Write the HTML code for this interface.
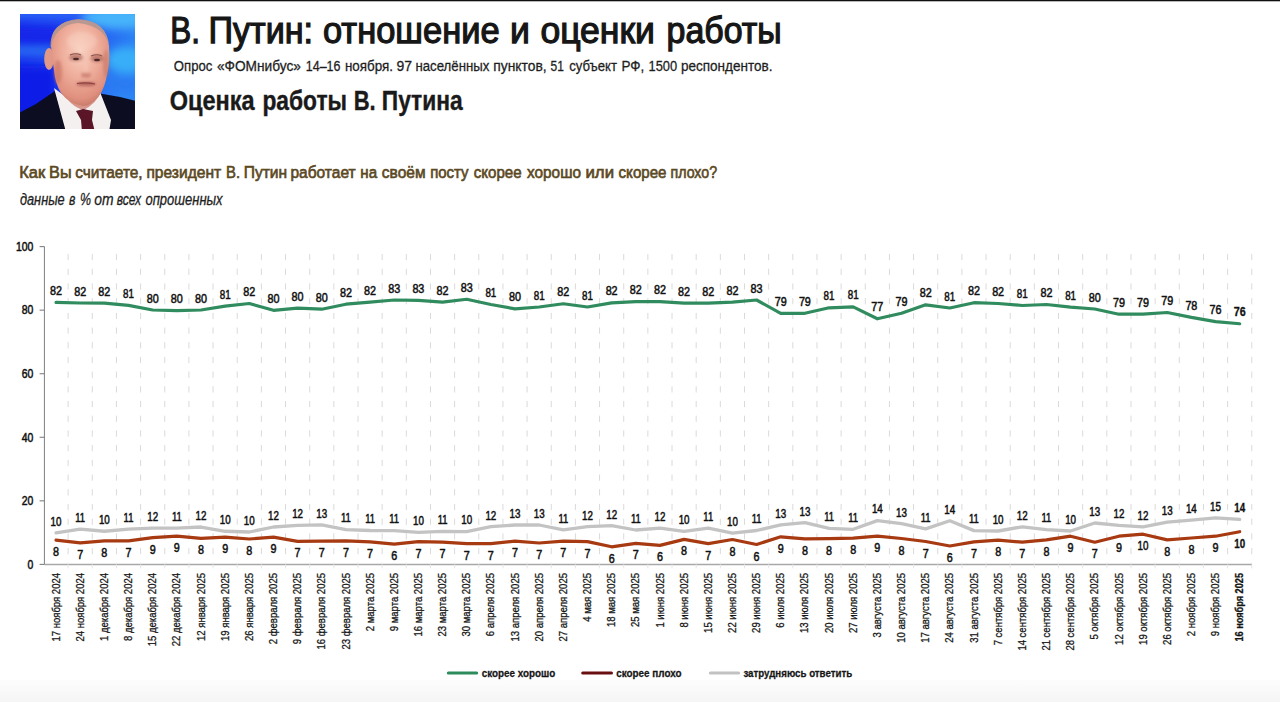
<!DOCTYPE html>
<html><head><meta charset="utf-8"><style>
html,body{margin:0;padding:0;background:#fff;width:1280px;height:702px;overflow:hidden}
svg{display:block;font-family:"Liberation Sans", sans-serif}
</style></head><body>
<svg width="1280" height="702" viewBox="0 0 1280 702">
<rect x="0" y="0" width="1280" height="702" fill="#ffffff"/>
<defs><linearGradient id="band" x1="0" y1="0" x2="0" y2="1"><stop offset="0" stop-color="#fdfdfd"/><stop offset="1" stop-color="#f5f5f5"/></linearGradient></defs>
<rect x="0" y="679.8" width="1280" height="22.2" fill="url(#band)"/>
<rect x="0" y="0" width="1280" height="1.3" fill="#111"/>

<g transform="translate(20,14)">
 <defs>
  <clipPath id="pc"><rect x="0" y="0" width="115" height="115"/></clipPath>
  <filter id="bl" x="-30%" y="-30%" width="160%" height="160%"><feGaussianBlur stdDeviation="4"/></filter>
  <filter id="bl2" x="-10%" y="-10%" width="120%" height="120%"><feGaussianBlur stdDeviation="0.7"/></filter>
  <filter id="bl3" x="-50%" y="-50%" width="200%" height="200%"><feGaussianBlur stdDeviation="1.6"/></filter>
  <radialGradient id="skin" cx="0.5" cy="0.36" r="0.65">
   <stop offset="0" stop-color="#f9d2c2"/><stop offset="0.45" stop-color="#f0b09e"/><stop offset="0.85" stop-color="#e0907e"/><stop offset="1" stop-color="#c87a6a"/>
  </radialGradient>
  <linearGradient id="bgg" x1="0" y1="0" x2="1" y2="0.3">
   <stop offset="0" stop-color="#1428ec"/><stop offset="0.5" stop-color="#1f4af0"/><stop offset="1" stop-color="#2d86f5"/>
  </linearGradient>
 </defs>
 <g clip-path="url(#pc)">
  <rect x="0" y="0" width="115" height="115" fill="url(#bgg)"/>
  <g filter="url(#bl)">
   <rect x="-10" y="-10" width="135" height="16" fill="#2a62f6"/>
   <ellipse cx="100" cy="4" rx="38" ry="11" fill="#46b4fa"/>
   <rect x="-10" y="12" width="50" height="20" fill="#1226ea"/>
   <rect x="-10" y="34" width="45" height="7" fill="#2f7af4"/>
   <ellipse cx="106" cy="46" rx="20" ry="13" fill="#38aef8"/>
   <rect x="-10" y="52" width="46" height="52" fill="#0f1ce6"/>
   <ellipse cx="104" cy="70" rx="20" ry="8" fill="#2a7af2"/>
  </g>
  <g filter="url(#bl2)">
   <path d="M-5 101 L16 90 L35 77 L47 118 L-5 118 Z" fill="#0a0c20"/>
   <path d="M77 79 L100 83 L120 88 L120 118 L86 118 Z" fill="#0a0c20"/>
   <path d="M34 74 L50 86 L64 96 L77 83 L80 78 L91 106 L89 118 L46 118 Z" fill="#f4f0f0"/>
   <path d="M38 64 Q44 90 63 96 Q77 90 81 76 L82 62 Z" fill="#d8958a"/>
   <path d="M56 97 L63 95 L73 97 L72 106 L75 118 L62 118 L61 106 Z" fill="#5a1828"/>
   <ellipse cx="29" cy="45" rx="4.8" ry="11" fill="#e09888"/>
   <path d="M31 32 Q30 8 58 5.5 Q87 7 89 32 Q90 48 87.5 58 Q85 74 79 82 Q71 92 63 92 Q49 90 41 79 Q35 69 34 56 Q32 45 31 32 Z" fill="url(#skin)"/>
   <path d="M30.5 34 Q29 8 58 5 Q87 6 89.5 34 Q86 12 58 9 Q35 11 30.5 34 Z" fill="#b09490" opacity="0.85"/>
  </g>
  <g filter="url(#bl3)">
   <ellipse cx="56" cy="43.5" rx="7" ry="3.6" fill="#b06a60" opacity="0.8"/>
   <ellipse cx="77" cy="44.5" rx="6.5" ry="3.6" fill="#b06a60" opacity="0.8"/>
   <ellipse cx="66" cy="61" rx="5" ry="2.6" fill="#c07062" opacity="0.7"/>
   <ellipse cx="66" cy="70" rx="10" ry="2" fill="#a85550" opacity="0.85"/>
   <ellipse cx="38" cy="58" rx="4" ry="12" fill="#c87060" opacity="0.6"/>
   <ellipse cx="86" cy="50" rx="3" ry="14" fill="#c07060" opacity="0.5"/>
   <ellipse cx="62" cy="27" rx="15" ry="9" fill="#fad4c6" opacity="0.4"/>
   <ellipse cx="66" cy="53" rx="2.5" ry="7" fill="#f8c8b8" opacity="0.5"/>
  </g>
  <g filter="url(#bl2)">
   <path d="M50 41 Q56 38.5 61 41" stroke="#8a5048" stroke-width="1.2" fill="none"/>
   <path d="M71 42 Q77 39.5 82 42" stroke="#8a5048" stroke-width="1.2" fill="none"/>
   <ellipse cx="56" cy="45" rx="3" ry="1.3" fill="#4a2a28"/>
   <ellipse cx="77" cy="46" rx="3" ry="1.3" fill="#4a2a28"/>
   <path d="M57 69.5 Q66 68 75 70" stroke="#8a4040" stroke-width="1.2" fill="none"/>
  </g>
 </g>
</g>

<line x1="68.13" y1="254" x2="68.13" y2="563" stroke="#dadada" stroke-width="1" stroke-dasharray="6.2 8.5"/>
<line x1="92.28" y1="254" x2="92.28" y2="563" stroke="#dadada" stroke-width="1" stroke-dasharray="6.2 8.5"/>
<line x1="116.44" y1="254" x2="116.44" y2="563" stroke="#dadada" stroke-width="1" stroke-dasharray="6.2 8.5"/>
<line x1="140.60" y1="254" x2="140.60" y2="563" stroke="#dadada" stroke-width="1" stroke-dasharray="6.2 8.5"/>
<line x1="164.75" y1="254" x2="164.75" y2="563" stroke="#dadada" stroke-width="1" stroke-dasharray="6.2 8.5"/>
<line x1="188.91" y1="254" x2="188.91" y2="563" stroke="#dadada" stroke-width="1" stroke-dasharray="6.2 8.5"/>
<line x1="213.06" y1="254" x2="213.06" y2="563" stroke="#dadada" stroke-width="1" stroke-dasharray="6.2 8.5"/>
<line x1="237.22" y1="254" x2="237.22" y2="563" stroke="#dadada" stroke-width="1" stroke-dasharray="6.2 8.5"/>
<line x1="261.38" y1="254" x2="261.38" y2="563" stroke="#dadada" stroke-width="1" stroke-dasharray="6.2 8.5"/>
<line x1="285.53" y1="254" x2="285.53" y2="563" stroke="#dadada" stroke-width="1" stroke-dasharray="6.2 8.5"/>
<line x1="309.69" y1="254" x2="309.69" y2="563" stroke="#dadada" stroke-width="1" stroke-dasharray="6.2 8.5"/>
<line x1="333.84" y1="254" x2="333.84" y2="563" stroke="#dadada" stroke-width="1" stroke-dasharray="6.2 8.5"/>
<line x1="358.00" y1="254" x2="358.00" y2="563" stroke="#dadada" stroke-width="1" stroke-dasharray="6.2 8.5"/>
<line x1="382.16" y1="254" x2="382.16" y2="563" stroke="#dadada" stroke-width="1" stroke-dasharray="6.2 8.5"/>
<line x1="406.31" y1="254" x2="406.31" y2="563" stroke="#dadada" stroke-width="1" stroke-dasharray="6.2 8.5"/>
<line x1="430.47" y1="254" x2="430.47" y2="563" stroke="#dadada" stroke-width="1" stroke-dasharray="6.2 8.5"/>
<line x1="454.62" y1="254" x2="454.62" y2="563" stroke="#dadada" stroke-width="1" stroke-dasharray="6.2 8.5"/>
<line x1="478.78" y1="254" x2="478.78" y2="563" stroke="#dadada" stroke-width="1" stroke-dasharray="6.2 8.5"/>
<line x1="502.94" y1="254" x2="502.94" y2="563" stroke="#dadada" stroke-width="1" stroke-dasharray="6.2 8.5"/>
<line x1="527.09" y1="254" x2="527.09" y2="563" stroke="#dadada" stroke-width="1" stroke-dasharray="6.2 8.5"/>
<line x1="551.25" y1="254" x2="551.25" y2="563" stroke="#dadada" stroke-width="1" stroke-dasharray="6.2 8.5"/>
<line x1="575.40" y1="254" x2="575.40" y2="563" stroke="#dadada" stroke-width="1" stroke-dasharray="6.2 8.5"/>
<line x1="599.56" y1="254" x2="599.56" y2="563" stroke="#dadada" stroke-width="1" stroke-dasharray="6.2 8.5"/>
<line x1="623.72" y1="254" x2="623.72" y2="563" stroke="#dadada" stroke-width="1" stroke-dasharray="6.2 8.5"/>
<line x1="647.87" y1="254" x2="647.87" y2="563" stroke="#dadada" stroke-width="1" stroke-dasharray="6.2 8.5"/>
<line x1="672.03" y1="254" x2="672.03" y2="563" stroke="#dadada" stroke-width="1" stroke-dasharray="6.2 8.5"/>
<line x1="696.18" y1="254" x2="696.18" y2="563" stroke="#dadada" stroke-width="1" stroke-dasharray="6.2 8.5"/>
<line x1="720.34" y1="254" x2="720.34" y2="563" stroke="#dadada" stroke-width="1" stroke-dasharray="6.2 8.5"/>
<line x1="744.50" y1="254" x2="744.50" y2="563" stroke="#dadada" stroke-width="1" stroke-dasharray="6.2 8.5"/>
<line x1="768.65" y1="254" x2="768.65" y2="563" stroke="#dadada" stroke-width="1" stroke-dasharray="6.2 8.5"/>
<line x1="792.81" y1="254" x2="792.81" y2="563" stroke="#dadada" stroke-width="1" stroke-dasharray="6.2 8.5"/>
<line x1="816.96" y1="254" x2="816.96" y2="563" stroke="#dadada" stroke-width="1" stroke-dasharray="6.2 8.5"/>
<line x1="841.12" y1="254" x2="841.12" y2="563" stroke="#dadada" stroke-width="1" stroke-dasharray="6.2 8.5"/>
<line x1="865.28" y1="254" x2="865.28" y2="563" stroke="#dadada" stroke-width="1" stroke-dasharray="6.2 8.5"/>
<line x1="889.43" y1="254" x2="889.43" y2="563" stroke="#dadada" stroke-width="1" stroke-dasharray="6.2 8.5"/>
<line x1="913.59" y1="254" x2="913.59" y2="563" stroke="#dadada" stroke-width="1" stroke-dasharray="6.2 8.5"/>
<line x1="937.74" y1="254" x2="937.74" y2="563" stroke="#dadada" stroke-width="1" stroke-dasharray="6.2 8.5"/>
<line x1="961.90" y1="254" x2="961.90" y2="563" stroke="#dadada" stroke-width="1" stroke-dasharray="6.2 8.5"/>
<line x1="986.06" y1="254" x2="986.06" y2="563" stroke="#dadada" stroke-width="1" stroke-dasharray="6.2 8.5"/>
<line x1="1010.21" y1="254" x2="1010.21" y2="563" stroke="#dadada" stroke-width="1" stroke-dasharray="6.2 8.5"/>
<line x1="1034.37" y1="254" x2="1034.37" y2="563" stroke="#dadada" stroke-width="1" stroke-dasharray="6.2 8.5"/>
<line x1="1058.52" y1="254" x2="1058.52" y2="563" stroke="#dadada" stroke-width="1" stroke-dasharray="6.2 8.5"/>
<line x1="1082.68" y1="254" x2="1082.68" y2="563" stroke="#dadada" stroke-width="1" stroke-dasharray="6.2 8.5"/>
<line x1="1106.84" y1="254" x2="1106.84" y2="563" stroke="#dadada" stroke-width="1" stroke-dasharray="6.2 8.5"/>
<line x1="1130.99" y1="254" x2="1130.99" y2="563" stroke="#dadada" stroke-width="1" stroke-dasharray="6.2 8.5"/>
<line x1="1155.15" y1="254" x2="1155.15" y2="563" stroke="#dadada" stroke-width="1" stroke-dasharray="6.2 8.5"/>
<line x1="1179.30" y1="254" x2="1179.30" y2="563" stroke="#dadada" stroke-width="1" stroke-dasharray="6.2 8.5"/>
<line x1="1203.46" y1="254" x2="1203.46" y2="563" stroke="#dadada" stroke-width="1" stroke-dasharray="6.2 8.5"/>
<line x1="1227.62" y1="254" x2="1227.62" y2="563" stroke="#dadada" stroke-width="1" stroke-dasharray="6.2 8.5"/>
<line x1="1251.77" y1="254" x2="1251.77" y2="563" stroke="#dadada" stroke-width="1" stroke-dasharray="6.2 8.5"/>
<line x1="44.45" y1="246.6" x2="44.45" y2="564.4" stroke="#8a8a8a" stroke-width="1.1"/>
<line x1="44.4" y1="564.4" x2="1252" y2="564.4" stroke="#a8a8a8" stroke-width="1.5"/>
<line x1="39.6" y1="564.40" x2="44.4" y2="564.40" stroke="#808080" stroke-width="1.1"/>
<text x="27.60" y="568.70" font-size="12" fill="#111" stroke="#111" stroke-width="0.5" textLength="5.80" lengthAdjust="spacingAndGlyphs">0</text>
<line x1="39.6" y1="500.84" x2="44.4" y2="500.84" stroke="#808080" stroke-width="1.1"/>
<text x="21.80" y="505.14" font-size="12" fill="#111" stroke="#111" stroke-width="0.5" textLength="11.60" lengthAdjust="spacingAndGlyphs">20</text>
<line x1="39.6" y1="437.28" x2="44.4" y2="437.28" stroke="#808080" stroke-width="1.1"/>
<text x="21.80" y="441.58" font-size="12" fill="#111" stroke="#111" stroke-width="0.5" textLength="11.60" lengthAdjust="spacingAndGlyphs">40</text>
<line x1="39.6" y1="373.72" x2="44.4" y2="373.72" stroke="#808080" stroke-width="1.1"/>
<text x="21.80" y="378.02" font-size="12" fill="#111" stroke="#111" stroke-width="0.5" textLength="11.60" lengthAdjust="spacingAndGlyphs">60</text>
<line x1="39.6" y1="310.16" x2="44.4" y2="310.16" stroke="#808080" stroke-width="1.1"/>
<text x="21.80" y="314.46" font-size="12" fill="#111" stroke="#111" stroke-width="0.5" textLength="11.60" lengthAdjust="spacingAndGlyphs">80</text>
<line x1="39.6" y1="246.60" x2="44.4" y2="246.60" stroke="#808080" stroke-width="1.1"/>
<text x="16.00" y="250.90" font-size="12" fill="#111" stroke="#111" stroke-width="0.5" textLength="17.40" lengthAdjust="spacingAndGlyphs">100</text>
<line x1="68.13" y1="564.4" x2="68.13" y2="568.4" stroke="#e6e6e6" stroke-width="1"/>
<line x1="92.28" y1="564.4" x2="92.28" y2="568.4" stroke="#e6e6e6" stroke-width="1"/>
<line x1="116.44" y1="564.4" x2="116.44" y2="568.4" stroke="#e6e6e6" stroke-width="1"/>
<line x1="140.60" y1="564.4" x2="140.60" y2="568.4" stroke="#e6e6e6" stroke-width="1"/>
<line x1="164.75" y1="564.4" x2="164.75" y2="568.4" stroke="#e6e6e6" stroke-width="1"/>
<line x1="188.91" y1="564.4" x2="188.91" y2="568.4" stroke="#e6e6e6" stroke-width="1"/>
<line x1="213.06" y1="564.4" x2="213.06" y2="568.4" stroke="#e6e6e6" stroke-width="1"/>
<line x1="237.22" y1="564.4" x2="237.22" y2="568.4" stroke="#e6e6e6" stroke-width="1"/>
<line x1="261.38" y1="564.4" x2="261.38" y2="568.4" stroke="#e6e6e6" stroke-width="1"/>
<line x1="285.53" y1="564.4" x2="285.53" y2="568.4" stroke="#e6e6e6" stroke-width="1"/>
<line x1="309.69" y1="564.4" x2="309.69" y2="568.4" stroke="#e6e6e6" stroke-width="1"/>
<line x1="333.84" y1="564.4" x2="333.84" y2="568.4" stroke="#e6e6e6" stroke-width="1"/>
<line x1="358.00" y1="564.4" x2="358.00" y2="568.4" stroke="#e6e6e6" stroke-width="1"/>
<line x1="382.16" y1="564.4" x2="382.16" y2="568.4" stroke="#e6e6e6" stroke-width="1"/>
<line x1="406.31" y1="564.4" x2="406.31" y2="568.4" stroke="#e6e6e6" stroke-width="1"/>
<line x1="430.47" y1="564.4" x2="430.47" y2="568.4" stroke="#e6e6e6" stroke-width="1"/>
<line x1="454.62" y1="564.4" x2="454.62" y2="568.4" stroke="#e6e6e6" stroke-width="1"/>
<line x1="478.78" y1="564.4" x2="478.78" y2="568.4" stroke="#e6e6e6" stroke-width="1"/>
<line x1="502.94" y1="564.4" x2="502.94" y2="568.4" stroke="#e6e6e6" stroke-width="1"/>
<line x1="527.09" y1="564.4" x2="527.09" y2="568.4" stroke="#e6e6e6" stroke-width="1"/>
<line x1="551.25" y1="564.4" x2="551.25" y2="568.4" stroke="#e6e6e6" stroke-width="1"/>
<line x1="575.40" y1="564.4" x2="575.40" y2="568.4" stroke="#e6e6e6" stroke-width="1"/>
<line x1="599.56" y1="564.4" x2="599.56" y2="568.4" stroke="#e6e6e6" stroke-width="1"/>
<line x1="623.72" y1="564.4" x2="623.72" y2="568.4" stroke="#e6e6e6" stroke-width="1"/>
<line x1="647.87" y1="564.4" x2="647.87" y2="568.4" stroke="#e6e6e6" stroke-width="1"/>
<line x1="672.03" y1="564.4" x2="672.03" y2="568.4" stroke="#e6e6e6" stroke-width="1"/>
<line x1="696.18" y1="564.4" x2="696.18" y2="568.4" stroke="#e6e6e6" stroke-width="1"/>
<line x1="720.34" y1="564.4" x2="720.34" y2="568.4" stroke="#e6e6e6" stroke-width="1"/>
<line x1="744.50" y1="564.4" x2="744.50" y2="568.4" stroke="#e6e6e6" stroke-width="1"/>
<line x1="768.65" y1="564.4" x2="768.65" y2="568.4" stroke="#e6e6e6" stroke-width="1"/>
<line x1="792.81" y1="564.4" x2="792.81" y2="568.4" stroke="#e6e6e6" stroke-width="1"/>
<line x1="816.96" y1="564.4" x2="816.96" y2="568.4" stroke="#e6e6e6" stroke-width="1"/>
<line x1="841.12" y1="564.4" x2="841.12" y2="568.4" stroke="#e6e6e6" stroke-width="1"/>
<line x1="865.28" y1="564.4" x2="865.28" y2="568.4" stroke="#e6e6e6" stroke-width="1"/>
<line x1="889.43" y1="564.4" x2="889.43" y2="568.4" stroke="#e6e6e6" stroke-width="1"/>
<line x1="913.59" y1="564.4" x2="913.59" y2="568.4" stroke="#e6e6e6" stroke-width="1"/>
<line x1="937.74" y1="564.4" x2="937.74" y2="568.4" stroke="#e6e6e6" stroke-width="1"/>
<line x1="961.90" y1="564.4" x2="961.90" y2="568.4" stroke="#e6e6e6" stroke-width="1"/>
<line x1="986.06" y1="564.4" x2="986.06" y2="568.4" stroke="#e6e6e6" stroke-width="1"/>
<line x1="1010.21" y1="564.4" x2="1010.21" y2="568.4" stroke="#e6e6e6" stroke-width="1"/>
<line x1="1034.37" y1="564.4" x2="1034.37" y2="568.4" stroke="#e6e6e6" stroke-width="1"/>
<line x1="1058.52" y1="564.4" x2="1058.52" y2="568.4" stroke="#e6e6e6" stroke-width="1"/>
<line x1="1082.68" y1="564.4" x2="1082.68" y2="568.4" stroke="#e6e6e6" stroke-width="1"/>
<line x1="1106.84" y1="564.4" x2="1106.84" y2="568.4" stroke="#e6e6e6" stroke-width="1"/>
<line x1="1130.99" y1="564.4" x2="1130.99" y2="568.4" stroke="#e6e6e6" stroke-width="1"/>
<line x1="1155.15" y1="564.4" x2="1155.15" y2="568.4" stroke="#e6e6e6" stroke-width="1"/>
<line x1="1179.30" y1="564.4" x2="1179.30" y2="568.4" stroke="#e6e6e6" stroke-width="1"/>
<line x1="1203.46" y1="564.4" x2="1203.46" y2="568.4" stroke="#e6e6e6" stroke-width="1"/>
<line x1="1227.62" y1="564.4" x2="1227.62" y2="568.4" stroke="#e6e6e6" stroke-width="1"/>
<line x1="1251.77" y1="564.4" x2="1251.77" y2="568.4" stroke="#e6e6e6" stroke-width="1"/>
<path d="M56.05,532.90 L80.21,529.10 L104.36,531.25 L128.52,529.10 L152.67,528.20 L176.83,528.20 L200.99,527.00 L225.14,531.25 L249.30,532.00 L273.45,527.00 L297.61,525.30 L321.77,524.90 L345.92,529.60 L370.08,530.50 L394.23,530.60 L418.39,532.30 L442.55,531.40 L466.70,531.60 L490.86,526.70 L515.01,525.00 L539.17,525.00 L563.33,529.80 L587.48,526.70 L611.64,525.70 L635.79,530.00 L659.95,528.10 L684.11,531.40 L708.26,528.10 L732.42,533.10 L756.57,530.50 L780.73,524.80 L804.89,522.70 L829.04,528.40 L853.20,529.30 L877.35,520.60 L901.51,523.70 L925.67,528.90 L949.82,520.70 L973.98,530.60 L998.13,531.00 L1022.29,526.80 L1046.45,529.60 L1070.60,531.00 L1094.76,523.00 L1118.91,525.40 L1143.07,526.80 L1167.23,522.10 L1191.38,520.20 L1215.54,517.90 L1239.69,519.30" fill="none" stroke="#c3c3c3" stroke-width="3.3" stroke-linejoin="round" stroke-linecap="round"/>
<path d="M56.05,540.10 L80.21,542.90 L104.36,540.80 L128.52,540.80 L152.67,537.60 L176.83,536.20 L200.99,538.30 L225.14,537.10 L249.30,539.00 L273.45,537.20 L297.61,541.40 L321.77,541.10 L345.92,540.80 L370.08,541.80 L394.23,544.10 L418.39,541.60 L442.55,542.20 L466.70,543.60 L490.86,543.60 L515.01,541.20 L539.17,543.00 L563.33,541.20 L587.48,541.60 L611.64,546.80 L635.79,543.30 L659.95,545.40 L684.11,539.40 L708.26,543.60 L732.42,539.50 L756.57,544.50 L780.73,536.80 L804.89,538.90 L829.04,538.60 L853.20,538.20 L877.35,536.10 L901.51,538.50 L925.67,541.50 L949.82,546.00 L973.98,541.80 L998.13,540.10 L1022.29,542.20 L1046.45,539.85 L1070.60,536.20 L1094.76,542.20 L1118.91,536.20 L1143.07,534.20 L1167.23,539.85 L1191.38,538.00 L1215.54,536.20 L1239.69,531.70" fill="none" stroke="#a83a12" stroke-width="3.2" stroke-linejoin="round" stroke-linecap="round"/>
<path d="M56.05,302.40 L80.21,303.00 L104.36,303.20 L128.52,305.40 L152.67,310.00 L176.83,310.70 L200.99,310.00 L225.14,306.10 L249.30,303.50 L273.45,310.30 L297.61,308.20 L321.77,309.20 L345.92,304.20 L370.08,302.10 L394.23,300.00 L418.39,300.40 L442.55,302.10 L466.70,299.25 L490.86,304.50 L515.01,308.80 L539.17,307.00 L563.33,303.75 L587.48,307.00 L611.64,302.80 L635.79,301.60 L659.95,301.60 L684.11,303.20 L708.26,303.20 L732.42,302.10 L756.57,300.00 L780.73,313.30 L804.89,313.30 L829.04,307.80 L853.20,306.90 L877.35,318.80 L901.51,313.20 L925.67,304.80 L949.82,308.00 L973.98,302.70 L998.13,303.50 L1022.29,305.50 L1046.45,304.50 L1070.60,307.20 L1094.76,309.00 L1118.91,314.20 L1143.07,314.20 L1167.23,312.50 L1191.38,317.40 L1215.54,321.60 L1239.69,323.75" fill="none" stroke="#308c5e" stroke-width="3.2" stroke-linejoin="round" stroke-linecap="round"/>
<text x="50.05" y="294.90" font-size="12" font-weight="normal" fill="#111" stroke="#111" stroke-width="0.5" textLength="12.00" lengthAdjust="spacingAndGlyphs">82</text>
<text x="53.05" y="556.10" font-size="12" font-weight="normal" fill="#111" stroke="#111" stroke-width="0.5" textLength="6.00" lengthAdjust="spacingAndGlyphs">8</text>
<text x="50.60" y="525.70" font-size="12" font-weight="normal" fill="#111" stroke="#111" stroke-width="0.5" textLength="10.90" lengthAdjust="spacingAndGlyphs">10</text>
<text x="74.21" y="295.50" font-size="12" font-weight="normal" fill="#111" stroke="#111" stroke-width="0.5" textLength="12.00" lengthAdjust="spacingAndGlyphs">82</text>
<text x="77.21" y="558.90" font-size="12" font-weight="normal" fill="#111" stroke="#111" stroke-width="0.5" textLength="6.00" lengthAdjust="spacingAndGlyphs">7</text>
<text x="75.31" y="521.90" font-size="12" font-weight="normal" fill="#111" stroke="#111" stroke-width="0.5" textLength="9.80" lengthAdjust="spacingAndGlyphs">11</text>
<text x="98.36" y="295.70" font-size="12" font-weight="normal" fill="#111" stroke="#111" stroke-width="0.5" textLength="12.00" lengthAdjust="spacingAndGlyphs">82</text>
<text x="101.36" y="556.80" font-size="12" font-weight="normal" fill="#111" stroke="#111" stroke-width="0.5" textLength="6.00" lengthAdjust="spacingAndGlyphs">8</text>
<text x="98.91" y="524.05" font-size="12" font-weight="normal" fill="#111" stroke="#111" stroke-width="0.5" textLength="10.90" lengthAdjust="spacingAndGlyphs">10</text>
<text x="123.07" y="297.90" font-size="12" font-weight="normal" fill="#111" stroke="#111" stroke-width="0.5" textLength="10.90" lengthAdjust="spacingAndGlyphs">81</text>
<text x="125.52" y="556.80" font-size="12" font-weight="normal" fill="#111" stroke="#111" stroke-width="0.5" textLength="6.00" lengthAdjust="spacingAndGlyphs">7</text>
<text x="123.62" y="521.90" font-size="12" font-weight="normal" fill="#111" stroke="#111" stroke-width="0.5" textLength="9.80" lengthAdjust="spacingAndGlyphs">11</text>
<text x="146.67" y="302.50" font-size="12" font-weight="normal" fill="#111" stroke="#111" stroke-width="0.5" textLength="12.00" lengthAdjust="spacingAndGlyphs">80</text>
<text x="149.67" y="553.60" font-size="12" font-weight="normal" fill="#111" stroke="#111" stroke-width="0.5" textLength="6.00" lengthAdjust="spacingAndGlyphs">9</text>
<text x="147.22" y="521.00" font-size="12" font-weight="normal" fill="#111" stroke="#111" stroke-width="0.5" textLength="10.90" lengthAdjust="spacingAndGlyphs">12</text>
<text x="170.83" y="303.20" font-size="12" font-weight="normal" fill="#111" stroke="#111" stroke-width="0.5" textLength="12.00" lengthAdjust="spacingAndGlyphs">80</text>
<text x="173.83" y="552.20" font-size="12" font-weight="normal" fill="#111" stroke="#111" stroke-width="0.5" textLength="6.00" lengthAdjust="spacingAndGlyphs">9</text>
<text x="171.93" y="521.00" font-size="12" font-weight="normal" fill="#111" stroke="#111" stroke-width="0.5" textLength="9.80" lengthAdjust="spacingAndGlyphs">11</text>
<text x="194.99" y="302.50" font-size="12" font-weight="normal" fill="#111" stroke="#111" stroke-width="0.5" textLength="12.00" lengthAdjust="spacingAndGlyphs">80</text>
<text x="197.99" y="554.30" font-size="12" font-weight="normal" fill="#111" stroke="#111" stroke-width="0.5" textLength="6.00" lengthAdjust="spacingAndGlyphs">8</text>
<text x="195.54" y="519.80" font-size="12" font-weight="normal" fill="#111" stroke="#111" stroke-width="0.5" textLength="10.90" lengthAdjust="spacingAndGlyphs">12</text>
<text x="219.69" y="298.60" font-size="12" font-weight="normal" fill="#111" stroke="#111" stroke-width="0.5" textLength="10.90" lengthAdjust="spacingAndGlyphs">81</text>
<text x="222.14" y="553.10" font-size="12" font-weight="normal" fill="#111" stroke="#111" stroke-width="0.5" textLength="6.00" lengthAdjust="spacingAndGlyphs">9</text>
<text x="219.69" y="524.05" font-size="12" font-weight="normal" fill="#111" stroke="#111" stroke-width="0.5" textLength="10.90" lengthAdjust="spacingAndGlyphs">10</text>
<text x="243.30" y="296.00" font-size="12" font-weight="normal" fill="#111" stroke="#111" stroke-width="0.5" textLength="12.00" lengthAdjust="spacingAndGlyphs">82</text>
<text x="246.30" y="555.00" font-size="12" font-weight="normal" fill="#111" stroke="#111" stroke-width="0.5" textLength="6.00" lengthAdjust="spacingAndGlyphs">8</text>
<text x="243.85" y="524.80" font-size="12" font-weight="normal" fill="#111" stroke="#111" stroke-width="0.5" textLength="10.90" lengthAdjust="spacingAndGlyphs">10</text>
<text x="267.45" y="302.80" font-size="12" font-weight="normal" fill="#111" stroke="#111" stroke-width="0.5" textLength="12.00" lengthAdjust="spacingAndGlyphs">80</text>
<text x="270.45" y="553.20" font-size="12" font-weight="normal" fill="#111" stroke="#111" stroke-width="0.5" textLength="6.00" lengthAdjust="spacingAndGlyphs">9</text>
<text x="268.00" y="519.80" font-size="12" font-weight="normal" fill="#111" stroke="#111" stroke-width="0.5" textLength="10.90" lengthAdjust="spacingAndGlyphs">12</text>
<text x="291.61" y="300.70" font-size="12" font-weight="normal" fill="#111" stroke="#111" stroke-width="0.5" textLength="12.00" lengthAdjust="spacingAndGlyphs">80</text>
<text x="294.61" y="557.40" font-size="12" font-weight="normal" fill="#111" stroke="#111" stroke-width="0.5" textLength="6.00" lengthAdjust="spacingAndGlyphs">7</text>
<text x="292.16" y="518.10" font-size="12" font-weight="normal" fill="#111" stroke="#111" stroke-width="0.5" textLength="10.90" lengthAdjust="spacingAndGlyphs">12</text>
<text x="315.77" y="301.70" font-size="12" font-weight="normal" fill="#111" stroke="#111" stroke-width="0.5" textLength="12.00" lengthAdjust="spacingAndGlyphs">80</text>
<text x="318.77" y="557.10" font-size="12" font-weight="normal" fill="#111" stroke="#111" stroke-width="0.5" textLength="6.00" lengthAdjust="spacingAndGlyphs">7</text>
<text x="316.32" y="517.70" font-size="12" font-weight="normal" fill="#111" stroke="#111" stroke-width="0.5" textLength="10.90" lengthAdjust="spacingAndGlyphs">13</text>
<text x="339.92" y="296.70" font-size="12" font-weight="normal" fill="#111" stroke="#111" stroke-width="0.5" textLength="12.00" lengthAdjust="spacingAndGlyphs">82</text>
<text x="342.92" y="556.80" font-size="12" font-weight="normal" fill="#111" stroke="#111" stroke-width="0.5" textLength="6.00" lengthAdjust="spacingAndGlyphs">7</text>
<text x="341.02" y="522.40" font-size="12" font-weight="normal" fill="#111" stroke="#111" stroke-width="0.5" textLength="9.80" lengthAdjust="spacingAndGlyphs">11</text>
<text x="364.08" y="294.60" font-size="12" font-weight="normal" fill="#111" stroke="#111" stroke-width="0.5" textLength="12.00" lengthAdjust="spacingAndGlyphs">82</text>
<text x="367.08" y="557.80" font-size="12" font-weight="normal" fill="#111" stroke="#111" stroke-width="0.5" textLength="6.00" lengthAdjust="spacingAndGlyphs">7</text>
<text x="365.18" y="523.30" font-size="12" font-weight="normal" fill="#111" stroke="#111" stroke-width="0.5" textLength="9.80" lengthAdjust="spacingAndGlyphs">11</text>
<text x="388.23" y="292.50" font-size="12" font-weight="normal" fill="#111" stroke="#111" stroke-width="0.5" textLength="12.00" lengthAdjust="spacingAndGlyphs">83</text>
<text x="391.23" y="560.10" font-size="12" font-weight="normal" fill="#111" stroke="#111" stroke-width="0.5" textLength="6.00" lengthAdjust="spacingAndGlyphs">6</text>
<text x="389.33" y="523.40" font-size="12" font-weight="normal" fill="#111" stroke="#111" stroke-width="0.5" textLength="9.80" lengthAdjust="spacingAndGlyphs">11</text>
<text x="412.39" y="292.90" font-size="12" font-weight="normal" fill="#111" stroke="#111" stroke-width="0.5" textLength="12.00" lengthAdjust="spacingAndGlyphs">83</text>
<text x="415.39" y="557.60" font-size="12" font-weight="normal" fill="#111" stroke="#111" stroke-width="0.5" textLength="6.00" lengthAdjust="spacingAndGlyphs">7</text>
<text x="412.94" y="525.10" font-size="12" font-weight="normal" fill="#111" stroke="#111" stroke-width="0.5" textLength="10.90" lengthAdjust="spacingAndGlyphs">10</text>
<text x="436.55" y="294.60" font-size="12" font-weight="normal" fill="#111" stroke="#111" stroke-width="0.5" textLength="12.00" lengthAdjust="spacingAndGlyphs">82</text>
<text x="439.55" y="558.20" font-size="12" font-weight="normal" fill="#111" stroke="#111" stroke-width="0.5" textLength="6.00" lengthAdjust="spacingAndGlyphs">7</text>
<text x="437.65" y="524.20" font-size="12" font-weight="normal" fill="#111" stroke="#111" stroke-width="0.5" textLength="9.80" lengthAdjust="spacingAndGlyphs">11</text>
<text x="460.70" y="291.75" font-size="12" font-weight="normal" fill="#111" stroke="#111" stroke-width="0.5" textLength="12.00" lengthAdjust="spacingAndGlyphs">83</text>
<text x="463.70" y="559.60" font-size="12" font-weight="normal" fill="#111" stroke="#111" stroke-width="0.5" textLength="6.00" lengthAdjust="spacingAndGlyphs">7</text>
<text x="461.25" y="524.40" font-size="12" font-weight="normal" fill="#111" stroke="#111" stroke-width="0.5" textLength="10.90" lengthAdjust="spacingAndGlyphs">10</text>
<text x="485.41" y="297.00" font-size="12" font-weight="normal" fill="#111" stroke="#111" stroke-width="0.5" textLength="10.90" lengthAdjust="spacingAndGlyphs">81</text>
<text x="487.86" y="559.60" font-size="12" font-weight="normal" fill="#111" stroke="#111" stroke-width="0.5" textLength="6.00" lengthAdjust="spacingAndGlyphs">7</text>
<text x="485.41" y="519.50" font-size="12" font-weight="normal" fill="#111" stroke="#111" stroke-width="0.5" textLength="10.90" lengthAdjust="spacingAndGlyphs">12</text>
<text x="509.01" y="301.30" font-size="12" font-weight="normal" fill="#111" stroke="#111" stroke-width="0.5" textLength="12.00" lengthAdjust="spacingAndGlyphs">80</text>
<text x="512.01" y="557.20" font-size="12" font-weight="normal" fill="#111" stroke="#111" stroke-width="0.5" textLength="6.00" lengthAdjust="spacingAndGlyphs">7</text>
<text x="509.56" y="517.80" font-size="12" font-weight="normal" fill="#111" stroke="#111" stroke-width="0.5" textLength="10.90" lengthAdjust="spacingAndGlyphs">13</text>
<text x="533.72" y="299.50" font-size="12" font-weight="normal" fill="#111" stroke="#111" stroke-width="0.5" textLength="10.90" lengthAdjust="spacingAndGlyphs">81</text>
<text x="536.17" y="559.00" font-size="12" font-weight="normal" fill="#111" stroke="#111" stroke-width="0.5" textLength="6.00" lengthAdjust="spacingAndGlyphs">7</text>
<text x="533.72" y="517.80" font-size="12" font-weight="normal" fill="#111" stroke="#111" stroke-width="0.5" textLength="10.90" lengthAdjust="spacingAndGlyphs">13</text>
<text x="557.33" y="296.25" font-size="12" font-weight="normal" fill="#111" stroke="#111" stroke-width="0.5" textLength="12.00" lengthAdjust="spacingAndGlyphs">82</text>
<text x="560.33" y="557.20" font-size="12" font-weight="normal" fill="#111" stroke="#111" stroke-width="0.5" textLength="6.00" lengthAdjust="spacingAndGlyphs">7</text>
<text x="558.43" y="522.60" font-size="12" font-weight="normal" fill="#111" stroke="#111" stroke-width="0.5" textLength="9.80" lengthAdjust="spacingAndGlyphs">11</text>
<text x="582.03" y="299.50" font-size="12" font-weight="normal" fill="#111" stroke="#111" stroke-width="0.5" textLength="10.90" lengthAdjust="spacingAndGlyphs">81</text>
<text x="584.48" y="557.60" font-size="12" font-weight="normal" fill="#111" stroke="#111" stroke-width="0.5" textLength="6.00" lengthAdjust="spacingAndGlyphs">7</text>
<text x="582.03" y="519.50" font-size="12" font-weight="normal" fill="#111" stroke="#111" stroke-width="0.5" textLength="10.90" lengthAdjust="spacingAndGlyphs">12</text>
<text x="605.64" y="295.30" font-size="12" font-weight="normal" fill="#111" stroke="#111" stroke-width="0.5" textLength="12.00" lengthAdjust="spacingAndGlyphs">82</text>
<text x="608.64" y="562.80" font-size="12" font-weight="normal" fill="#111" stroke="#111" stroke-width="0.5" textLength="6.00" lengthAdjust="spacingAndGlyphs">6</text>
<text x="606.19" y="518.50" font-size="12" font-weight="normal" fill="#111" stroke="#111" stroke-width="0.5" textLength="10.90" lengthAdjust="spacingAndGlyphs">12</text>
<text x="629.79" y="294.10" font-size="12" font-weight="normal" fill="#111" stroke="#111" stroke-width="0.5" textLength="12.00" lengthAdjust="spacingAndGlyphs">82</text>
<text x="632.79" y="559.30" font-size="12" font-weight="normal" fill="#111" stroke="#111" stroke-width="0.5" textLength="6.00" lengthAdjust="spacingAndGlyphs">7</text>
<text x="630.89" y="522.80" font-size="12" font-weight="normal" fill="#111" stroke="#111" stroke-width="0.5" textLength="9.80" lengthAdjust="spacingAndGlyphs">11</text>
<text x="653.95" y="294.10" font-size="12" font-weight="normal" fill="#111" stroke="#111" stroke-width="0.5" textLength="12.00" lengthAdjust="spacingAndGlyphs">82</text>
<text x="656.95" y="561.40" font-size="12" font-weight="normal" fill="#111" stroke="#111" stroke-width="0.5" textLength="6.00" lengthAdjust="spacingAndGlyphs">6</text>
<text x="654.50" y="520.90" font-size="12" font-weight="normal" fill="#111" stroke="#111" stroke-width="0.5" textLength="10.90" lengthAdjust="spacingAndGlyphs">12</text>
<text x="678.11" y="295.70" font-size="12" font-weight="normal" fill="#111" stroke="#111" stroke-width="0.5" textLength="12.00" lengthAdjust="spacingAndGlyphs">82</text>
<text x="681.11" y="555.40" font-size="12" font-weight="normal" fill="#111" stroke="#111" stroke-width="0.5" textLength="6.00" lengthAdjust="spacingAndGlyphs">8</text>
<text x="678.66" y="524.20" font-size="12" font-weight="normal" fill="#111" stroke="#111" stroke-width="0.5" textLength="10.90" lengthAdjust="spacingAndGlyphs">10</text>
<text x="702.26" y="295.70" font-size="12" font-weight="normal" fill="#111" stroke="#111" stroke-width="0.5" textLength="12.00" lengthAdjust="spacingAndGlyphs">82</text>
<text x="705.26" y="559.60" font-size="12" font-weight="normal" fill="#111" stroke="#111" stroke-width="0.5" textLength="6.00" lengthAdjust="spacingAndGlyphs">7</text>
<text x="703.36" y="520.90" font-size="12" font-weight="normal" fill="#111" stroke="#111" stroke-width="0.5" textLength="9.80" lengthAdjust="spacingAndGlyphs">11</text>
<text x="726.42" y="294.60" font-size="12" font-weight="normal" fill="#111" stroke="#111" stroke-width="0.5" textLength="12.00" lengthAdjust="spacingAndGlyphs">82</text>
<text x="729.42" y="555.50" font-size="12" font-weight="normal" fill="#111" stroke="#111" stroke-width="0.5" textLength="6.00" lengthAdjust="spacingAndGlyphs">8</text>
<text x="726.97" y="525.90" font-size="12" font-weight="normal" fill="#111" stroke="#111" stroke-width="0.5" textLength="10.90" lengthAdjust="spacingAndGlyphs">10</text>
<text x="750.57" y="292.50" font-size="12" font-weight="normal" fill="#111" stroke="#111" stroke-width="0.5" textLength="12.00" lengthAdjust="spacingAndGlyphs">83</text>
<text x="753.57" y="560.50" font-size="12" font-weight="normal" fill="#111" stroke="#111" stroke-width="0.5" textLength="6.00" lengthAdjust="spacingAndGlyphs">6</text>
<text x="751.67" y="523.30" font-size="12" font-weight="normal" fill="#111" stroke="#111" stroke-width="0.5" textLength="9.80" lengthAdjust="spacingAndGlyphs">11</text>
<text x="774.73" y="305.80" font-size="12" font-weight="normal" fill="#111" stroke="#111" stroke-width="0.5" textLength="12.00" lengthAdjust="spacingAndGlyphs">79</text>
<text x="777.73" y="552.80" font-size="12" font-weight="normal" fill="#111" stroke="#111" stroke-width="0.5" textLength="6.00" lengthAdjust="spacingAndGlyphs">9</text>
<text x="775.28" y="517.60" font-size="12" font-weight="normal" fill="#111" stroke="#111" stroke-width="0.5" textLength="10.90" lengthAdjust="spacingAndGlyphs">13</text>
<text x="798.89" y="305.80" font-size="12" font-weight="normal" fill="#111" stroke="#111" stroke-width="0.5" textLength="12.00" lengthAdjust="spacingAndGlyphs">79</text>
<text x="801.89" y="554.90" font-size="12" font-weight="normal" fill="#111" stroke="#111" stroke-width="0.5" textLength="6.00" lengthAdjust="spacingAndGlyphs">8</text>
<text x="799.44" y="515.50" font-size="12" font-weight="normal" fill="#111" stroke="#111" stroke-width="0.5" textLength="10.90" lengthAdjust="spacingAndGlyphs">13</text>
<text x="823.59" y="300.30" font-size="12" font-weight="normal" fill="#111" stroke="#111" stroke-width="0.5" textLength="10.90" lengthAdjust="spacingAndGlyphs">81</text>
<text x="826.04" y="554.60" font-size="12" font-weight="normal" fill="#111" stroke="#111" stroke-width="0.5" textLength="6.00" lengthAdjust="spacingAndGlyphs">8</text>
<text x="824.14" y="521.20" font-size="12" font-weight="normal" fill="#111" stroke="#111" stroke-width="0.5" textLength="9.80" lengthAdjust="spacingAndGlyphs">11</text>
<text x="847.75" y="299.40" font-size="12" font-weight="normal" fill="#111" stroke="#111" stroke-width="0.5" textLength="10.90" lengthAdjust="spacingAndGlyphs">81</text>
<text x="850.20" y="554.20" font-size="12" font-weight="normal" fill="#111" stroke="#111" stroke-width="0.5" textLength="6.00" lengthAdjust="spacingAndGlyphs">8</text>
<text x="848.30" y="522.10" font-size="12" font-weight="normal" fill="#111" stroke="#111" stroke-width="0.5" textLength="9.80" lengthAdjust="spacingAndGlyphs">11</text>
<text x="871.35" y="311.30" font-size="12" font-weight="normal" fill="#111" stroke="#111" stroke-width="0.5" textLength="12.00" lengthAdjust="spacingAndGlyphs">77</text>
<text x="874.35" y="552.10" font-size="12" font-weight="normal" fill="#111" stroke="#111" stroke-width="0.5" textLength="6.00" lengthAdjust="spacingAndGlyphs">9</text>
<text x="871.90" y="513.40" font-size="12" font-weight="normal" fill="#111" stroke="#111" stroke-width="0.5" textLength="10.90" lengthAdjust="spacingAndGlyphs">14</text>
<text x="895.51" y="305.70" font-size="12" font-weight="normal" fill="#111" stroke="#111" stroke-width="0.5" textLength="12.00" lengthAdjust="spacingAndGlyphs">79</text>
<text x="898.51" y="554.50" font-size="12" font-weight="normal" fill="#111" stroke="#111" stroke-width="0.5" textLength="6.00" lengthAdjust="spacingAndGlyphs">8</text>
<text x="896.06" y="516.50" font-size="12" font-weight="normal" fill="#111" stroke="#111" stroke-width="0.5" textLength="10.90" lengthAdjust="spacingAndGlyphs">13</text>
<text x="919.67" y="297.30" font-size="12" font-weight="normal" fill="#111" stroke="#111" stroke-width="0.5" textLength="12.00" lengthAdjust="spacingAndGlyphs">82</text>
<text x="922.67" y="557.50" font-size="12" font-weight="normal" fill="#111" stroke="#111" stroke-width="0.5" textLength="6.00" lengthAdjust="spacingAndGlyphs">7</text>
<text x="920.77" y="521.70" font-size="12" font-weight="normal" fill="#111" stroke="#111" stroke-width="0.5" textLength="9.80" lengthAdjust="spacingAndGlyphs">11</text>
<text x="944.37" y="300.50" font-size="12" font-weight="normal" fill="#111" stroke="#111" stroke-width="0.5" textLength="10.90" lengthAdjust="spacingAndGlyphs">81</text>
<text x="946.82" y="562.00" font-size="12" font-weight="normal" fill="#111" stroke="#111" stroke-width="0.5" textLength="6.00" lengthAdjust="spacingAndGlyphs">6</text>
<text x="944.37" y="513.50" font-size="12" font-weight="normal" fill="#111" stroke="#111" stroke-width="0.5" textLength="10.90" lengthAdjust="spacingAndGlyphs">14</text>
<text x="967.98" y="295.20" font-size="12" font-weight="normal" fill="#111" stroke="#111" stroke-width="0.5" textLength="12.00" lengthAdjust="spacingAndGlyphs">82</text>
<text x="970.98" y="557.80" font-size="12" font-weight="normal" fill="#111" stroke="#111" stroke-width="0.5" textLength="6.00" lengthAdjust="spacingAndGlyphs">7</text>
<text x="969.08" y="523.40" font-size="12" font-weight="normal" fill="#111" stroke="#111" stroke-width="0.5" textLength="9.80" lengthAdjust="spacingAndGlyphs">11</text>
<text x="992.13" y="296.00" font-size="12" font-weight="normal" fill="#111" stroke="#111" stroke-width="0.5" textLength="12.00" lengthAdjust="spacingAndGlyphs">82</text>
<text x="995.13" y="556.10" font-size="12" font-weight="normal" fill="#111" stroke="#111" stroke-width="0.5" textLength="6.00" lengthAdjust="spacingAndGlyphs">8</text>
<text x="992.68" y="523.80" font-size="12" font-weight="normal" fill="#111" stroke="#111" stroke-width="0.5" textLength="10.90" lengthAdjust="spacingAndGlyphs">10</text>
<text x="1016.84" y="298.00" font-size="12" font-weight="normal" fill="#111" stroke="#111" stroke-width="0.5" textLength="10.90" lengthAdjust="spacingAndGlyphs">81</text>
<text x="1019.29" y="558.20" font-size="12" font-weight="normal" fill="#111" stroke="#111" stroke-width="0.5" textLength="6.00" lengthAdjust="spacingAndGlyphs">7</text>
<text x="1016.84" y="519.60" font-size="12" font-weight="normal" fill="#111" stroke="#111" stroke-width="0.5" textLength="10.90" lengthAdjust="spacingAndGlyphs">12</text>
<text x="1040.45" y="297.00" font-size="12" font-weight="normal" fill="#111" stroke="#111" stroke-width="0.5" textLength="12.00" lengthAdjust="spacingAndGlyphs">82</text>
<text x="1043.45" y="555.85" font-size="12" font-weight="normal" fill="#111" stroke="#111" stroke-width="0.5" textLength="6.00" lengthAdjust="spacingAndGlyphs">8</text>
<text x="1041.55" y="522.40" font-size="12" font-weight="normal" fill="#111" stroke="#111" stroke-width="0.5" textLength="9.80" lengthAdjust="spacingAndGlyphs">11</text>
<text x="1065.15" y="299.70" font-size="12" font-weight="normal" fill="#111" stroke="#111" stroke-width="0.5" textLength="10.90" lengthAdjust="spacingAndGlyphs">81</text>
<text x="1067.60" y="552.20" font-size="12" font-weight="normal" fill="#111" stroke="#111" stroke-width="0.5" textLength="6.00" lengthAdjust="spacingAndGlyphs">9</text>
<text x="1065.15" y="523.80" font-size="12" font-weight="normal" fill="#111" stroke="#111" stroke-width="0.5" textLength="10.90" lengthAdjust="spacingAndGlyphs">10</text>
<text x="1088.76" y="301.50" font-size="12" font-weight="normal" fill="#111" stroke="#111" stroke-width="0.5" textLength="12.00" lengthAdjust="spacingAndGlyphs">80</text>
<text x="1091.76" y="558.20" font-size="12" font-weight="normal" fill="#111" stroke="#111" stroke-width="0.5" textLength="6.00" lengthAdjust="spacingAndGlyphs">7</text>
<text x="1089.31" y="515.80" font-size="12" font-weight="normal" fill="#111" stroke="#111" stroke-width="0.5" textLength="10.90" lengthAdjust="spacingAndGlyphs">13</text>
<text x="1112.91" y="306.70" font-size="12" font-weight="normal" fill="#111" stroke="#111" stroke-width="0.5" textLength="12.00" lengthAdjust="spacingAndGlyphs">79</text>
<text x="1115.91" y="552.20" font-size="12" font-weight="normal" fill="#111" stroke="#111" stroke-width="0.5" textLength="6.00" lengthAdjust="spacingAndGlyphs">9</text>
<text x="1113.46" y="518.20" font-size="12" font-weight="normal" fill="#111" stroke="#111" stroke-width="0.5" textLength="10.90" lengthAdjust="spacingAndGlyphs">12</text>
<text x="1137.07" y="306.70" font-size="12" font-weight="normal" fill="#111" stroke="#111" stroke-width="0.5" textLength="12.00" lengthAdjust="spacingAndGlyphs">79</text>
<text x="1137.62" y="550.20" font-size="12" font-weight="normal" fill="#111" stroke="#111" stroke-width="0.5" textLength="10.90" lengthAdjust="spacingAndGlyphs">10</text>
<text x="1137.62" y="519.60" font-size="12" font-weight="normal" fill="#111" stroke="#111" stroke-width="0.5" textLength="10.90" lengthAdjust="spacingAndGlyphs">12</text>
<text x="1161.23" y="305.00" font-size="12" font-weight="normal" fill="#111" stroke="#111" stroke-width="0.5" textLength="12.00" lengthAdjust="spacingAndGlyphs">79</text>
<text x="1164.23" y="555.85" font-size="12" font-weight="normal" fill="#111" stroke="#111" stroke-width="0.5" textLength="6.00" lengthAdjust="spacingAndGlyphs">8</text>
<text x="1161.78" y="514.90" font-size="12" font-weight="normal" fill="#111" stroke="#111" stroke-width="0.5" textLength="10.90" lengthAdjust="spacingAndGlyphs">13</text>
<text x="1185.38" y="309.90" font-size="12" font-weight="normal" fill="#111" stroke="#111" stroke-width="0.5" textLength="12.00" lengthAdjust="spacingAndGlyphs">78</text>
<text x="1188.38" y="554.00" font-size="12" font-weight="normal" fill="#111" stroke="#111" stroke-width="0.5" textLength="6.00" lengthAdjust="spacingAndGlyphs">8</text>
<text x="1185.93" y="513.00" font-size="12" font-weight="normal" fill="#111" stroke="#111" stroke-width="0.5" textLength="10.90" lengthAdjust="spacingAndGlyphs">14</text>
<text x="1209.54" y="314.10" font-size="12" font-weight="normal" fill="#111" stroke="#111" stroke-width="0.5" textLength="12.00" lengthAdjust="spacingAndGlyphs">76</text>
<text x="1212.54" y="552.20" font-size="12" font-weight="normal" fill="#111" stroke="#111" stroke-width="0.5" textLength="6.00" lengthAdjust="spacingAndGlyphs">9</text>
<text x="1210.09" y="510.70" font-size="12" font-weight="normal" fill="#111" stroke="#111" stroke-width="0.5" textLength="10.90" lengthAdjust="spacingAndGlyphs">15</text>
<text x="1233.69" y="316.25" font-size="12" font-weight="bold" fill="#111" stroke="#111" stroke-width="0.3" textLength="12.00" lengthAdjust="spacingAndGlyphs">76</text>
<text x="1234.24" y="547.70" font-size="12" font-weight="bold" fill="#111" stroke="#111" stroke-width="0.3" textLength="10.90" lengthAdjust="spacingAndGlyphs">10</text>
<text x="1234.24" y="512.10" font-size="12" font-weight="bold" fill="#111" stroke="#111" stroke-width="0.3" textLength="10.90" lengthAdjust="spacingAndGlyphs">14</text>
<text transform="translate(59.65,573) rotate(-90)" x="-68.50" y="0" font-size="11.6"  fill="#151515" stroke="#151515" stroke-width="0.3" textLength="68.50" lengthAdjust="spacingAndGlyphs">17 ноября 2024</text>
<text transform="translate(83.81,573) rotate(-90)" x="-68.50" y="0" font-size="11.6"  fill="#151515" stroke="#151515" stroke-width="0.3" textLength="68.50" lengthAdjust="spacingAndGlyphs">24 ноября 2024</text>
<text transform="translate(107.96,573) rotate(-90)" x="-68.02" y="0" font-size="11.6"  fill="#151515" stroke="#151515" stroke-width="0.3" textLength="68.02" lengthAdjust="spacingAndGlyphs">1 декабря 2024</text>
<text transform="translate(132.12,573) rotate(-90)" x="-68.02" y="0" font-size="11.6"  fill="#151515" stroke="#151515" stroke-width="0.3" textLength="68.02" lengthAdjust="spacingAndGlyphs">8 декабря 2024</text>
<text transform="translate(156.27,573) rotate(-90)" x="-73.31" y="0" font-size="11.6"  fill="#151515" stroke="#151515" stroke-width="0.3" textLength="73.31" lengthAdjust="spacingAndGlyphs">15 декабря 2024</text>
<text transform="translate(180.43,573) rotate(-90)" x="-73.31" y="0" font-size="11.6"  fill="#151515" stroke="#151515" stroke-width="0.3" textLength="73.31" lengthAdjust="spacingAndGlyphs">22 декабря 2024</text>
<text transform="translate(204.59,573) rotate(-90)" x="-67.99" y="0" font-size="11.6"  fill="#151515" stroke="#151515" stroke-width="0.3" textLength="67.99" lengthAdjust="spacingAndGlyphs">12 января 2025</text>
<text transform="translate(228.74,573) rotate(-90)" x="-67.99" y="0" font-size="11.6"  fill="#151515" stroke="#151515" stroke-width="0.3" textLength="67.99" lengthAdjust="spacingAndGlyphs">19 января 2025</text>
<text transform="translate(252.90,573) rotate(-90)" x="-67.99" y="0" font-size="11.6"  fill="#151515" stroke="#151515" stroke-width="0.3" textLength="67.99" lengthAdjust="spacingAndGlyphs">26 января 2025</text>
<text transform="translate(277.05,573) rotate(-90)" x="-71.19" y="0" font-size="11.6"  fill="#151515" stroke="#151515" stroke-width="0.3" textLength="71.19" lengthAdjust="spacingAndGlyphs">2 февраля 2025</text>
<text transform="translate(301.21,573) rotate(-90)" x="-71.19" y="0" font-size="11.6"  fill="#151515" stroke="#151515" stroke-width="0.3" textLength="71.19" lengthAdjust="spacingAndGlyphs">9 февраля 2025</text>
<text transform="translate(325.37,573) rotate(-90)" x="-76.48" y="0" font-size="11.6"  fill="#151515" stroke="#151515" stroke-width="0.3" textLength="76.48" lengthAdjust="spacingAndGlyphs">16 февраля 2025</text>
<text transform="translate(349.52,573) rotate(-90)" x="-76.48" y="0" font-size="11.6"  fill="#151515" stroke="#151515" stroke-width="0.3" textLength="76.48" lengthAdjust="spacingAndGlyphs">23 февраля 2025</text>
<text transform="translate(373.68,573) rotate(-90)" x="-58.18" y="0" font-size="11.6"  fill="#151515" stroke="#151515" stroke-width="0.3" textLength="58.18" lengthAdjust="spacingAndGlyphs">2 марта 2025</text>
<text transform="translate(397.83,573) rotate(-90)" x="-58.18" y="0" font-size="11.6"  fill="#151515" stroke="#151515" stroke-width="0.3" textLength="58.18" lengthAdjust="spacingAndGlyphs">9 марта 2025</text>
<text transform="translate(421.99,573) rotate(-90)" x="-63.47" y="0" font-size="11.6"  fill="#151515" stroke="#151515" stroke-width="0.3" textLength="63.47" lengthAdjust="spacingAndGlyphs">16 марта 2025</text>
<text transform="translate(446.15,573) rotate(-90)" x="-63.47" y="0" font-size="11.6"  fill="#151515" stroke="#151515" stroke-width="0.3" textLength="63.47" lengthAdjust="spacingAndGlyphs">23 марта 2025</text>
<text transform="translate(470.30,573) rotate(-90)" x="-63.47" y="0" font-size="11.6"  fill="#151515" stroke="#151515" stroke-width="0.3" textLength="63.47" lengthAdjust="spacingAndGlyphs">30 марта 2025</text>
<text transform="translate(494.46,573) rotate(-90)" x="-63.15" y="0" font-size="11.6"  fill="#151515" stroke="#151515" stroke-width="0.3" textLength="63.15" lengthAdjust="spacingAndGlyphs">6 апреля 2025</text>
<text transform="translate(518.61,573) rotate(-90)" x="-68.44" y="0" font-size="11.6"  fill="#151515" stroke="#151515" stroke-width="0.3" textLength="68.44" lengthAdjust="spacingAndGlyphs">13 апреля 2025</text>
<text transform="translate(542.77,573) rotate(-90)" x="-68.44" y="0" font-size="11.6"  fill="#151515" stroke="#151515" stroke-width="0.3" textLength="68.44" lengthAdjust="spacingAndGlyphs">20 апреля 2025</text>
<text transform="translate(566.93,573) rotate(-90)" x="-68.44" y="0" font-size="11.6"  fill="#151515" stroke="#151515" stroke-width="0.3" textLength="68.44" lengthAdjust="spacingAndGlyphs">27 апреля 2025</text>
<text transform="translate(591.08,573) rotate(-90)" x="-48.71" y="0" font-size="11.6"  fill="#151515" stroke="#151515" stroke-width="0.3" textLength="48.71" lengthAdjust="spacingAndGlyphs">4 мая 2025</text>
<text transform="translate(615.24,573) rotate(-90)" x="-54.00" y="0" font-size="11.6"  fill="#151515" stroke="#151515" stroke-width="0.3" textLength="54.00" lengthAdjust="spacingAndGlyphs">18 мая 2025</text>
<text transform="translate(639.39,573) rotate(-90)" x="-54.00" y="0" font-size="11.6"  fill="#151515" stroke="#151515" stroke-width="0.3" textLength="54.00" lengthAdjust="spacingAndGlyphs">25 мая 2025</text>
<text transform="translate(663.55,573) rotate(-90)" x="-54.59" y="0" font-size="11.6"  fill="#151515" stroke="#151515" stroke-width="0.3" textLength="54.59" lengthAdjust="spacingAndGlyphs">1 июня 2025</text>
<text transform="translate(687.71,573) rotate(-90)" x="-54.59" y="0" font-size="11.6"  fill="#151515" stroke="#151515" stroke-width="0.3" textLength="54.59" lengthAdjust="spacingAndGlyphs">8 июня 2025</text>
<text transform="translate(711.86,573) rotate(-90)" x="-59.88" y="0" font-size="11.6"  fill="#151515" stroke="#151515" stroke-width="0.3" textLength="59.88" lengthAdjust="spacingAndGlyphs">15 июня 2025</text>
<text transform="translate(736.02,573) rotate(-90)" x="-59.88" y="0" font-size="11.6"  fill="#151515" stroke="#151515" stroke-width="0.3" textLength="59.88" lengthAdjust="spacingAndGlyphs">22 июня 2025</text>
<text transform="translate(760.17,573) rotate(-90)" x="-59.88" y="0" font-size="11.6"  fill="#151515" stroke="#151515" stroke-width="0.3" textLength="59.88" lengthAdjust="spacingAndGlyphs">29 июня 2025</text>
<text transform="translate(784.33,573) rotate(-90)" x="-54.67" y="0" font-size="11.6"  fill="#151515" stroke="#151515" stroke-width="0.3" textLength="54.67" lengthAdjust="spacingAndGlyphs">6 июля 2025</text>
<text transform="translate(808.49,573) rotate(-90)" x="-59.96" y="0" font-size="11.6"  fill="#151515" stroke="#151515" stroke-width="0.3" textLength="59.96" lengthAdjust="spacingAndGlyphs">13 июля 2025</text>
<text transform="translate(832.64,573) rotate(-90)" x="-59.96" y="0" font-size="11.6"  fill="#151515" stroke="#151515" stroke-width="0.3" textLength="59.96" lengthAdjust="spacingAndGlyphs">20 июля 2025</text>
<text transform="translate(856.80,573) rotate(-90)" x="-59.96" y="0" font-size="11.6"  fill="#151515" stroke="#151515" stroke-width="0.3" textLength="59.96" lengthAdjust="spacingAndGlyphs">27 июля 2025</text>
<text transform="translate(880.95,573) rotate(-90)" x="-64.49" y="0" font-size="11.6"  fill="#151515" stroke="#151515" stroke-width="0.3" textLength="64.49" lengthAdjust="spacingAndGlyphs">3 августа 2025</text>
<text transform="translate(905.11,573) rotate(-90)" x="-69.78" y="0" font-size="11.6"  fill="#151515" stroke="#151515" stroke-width="0.3" textLength="69.78" lengthAdjust="spacingAndGlyphs">10 августа 2025</text>
<text transform="translate(929.27,573) rotate(-90)" x="-69.78" y="0" font-size="11.6"  fill="#151515" stroke="#151515" stroke-width="0.3" textLength="69.78" lengthAdjust="spacingAndGlyphs">17 августа 2025</text>
<text transform="translate(953.42,573) rotate(-90)" x="-69.78" y="0" font-size="11.6"  fill="#151515" stroke="#151515" stroke-width="0.3" textLength="69.78" lengthAdjust="spacingAndGlyphs">24 августа 2025</text>
<text transform="translate(977.58,573) rotate(-90)" x="-69.78" y="0" font-size="11.6"  fill="#151515" stroke="#151515" stroke-width="0.3" textLength="69.78" lengthAdjust="spacingAndGlyphs">31 августа 2025</text>
<text transform="translate(1001.73,573) rotate(-90)" x="-72.33" y="0" font-size="11.6"  fill="#151515" stroke="#151515" stroke-width="0.3" textLength="72.33" lengthAdjust="spacingAndGlyphs">7 сентября 2025</text>
<text transform="translate(1025.89,573) rotate(-90)" x="-77.62" y="0" font-size="11.6"  fill="#151515" stroke="#151515" stroke-width="0.3" textLength="77.62" lengthAdjust="spacingAndGlyphs">14 сентября 2025</text>
<text transform="translate(1050.05,573) rotate(-90)" x="-77.62" y="0" font-size="11.6"  fill="#151515" stroke="#151515" stroke-width="0.3" textLength="77.62" lengthAdjust="spacingAndGlyphs">21 сентября 2025</text>
<text transform="translate(1074.20,573) rotate(-90)" x="-77.62" y="0" font-size="11.6"  fill="#151515" stroke="#151515" stroke-width="0.3" textLength="77.62" lengthAdjust="spacingAndGlyphs">28 сентября 2025</text>
<text transform="translate(1098.36,573) rotate(-90)" x="-66.59" y="0" font-size="11.6"  fill="#151515" stroke="#151515" stroke-width="0.3" textLength="66.59" lengthAdjust="spacingAndGlyphs">5 октября 2025</text>
<text transform="translate(1122.51,573) rotate(-90)" x="-71.88" y="0" font-size="11.6"  fill="#151515" stroke="#151515" stroke-width="0.3" textLength="71.88" lengthAdjust="spacingAndGlyphs">12 октября 2025</text>
<text transform="translate(1146.67,573) rotate(-90)" x="-71.88" y="0" font-size="11.6"  fill="#151515" stroke="#151515" stroke-width="0.3" textLength="71.88" lengthAdjust="spacingAndGlyphs">19 октября 2025</text>
<text transform="translate(1170.83,573) rotate(-90)" x="-71.88" y="0" font-size="11.6"  fill="#151515" stroke="#151515" stroke-width="0.3" textLength="71.88" lengthAdjust="spacingAndGlyphs">26 октября 2025</text>
<text transform="translate(1194.98,573) rotate(-90)" x="-63.21" y="0" font-size="11.6"  fill="#151515" stroke="#151515" stroke-width="0.3" textLength="63.21" lengthAdjust="spacingAndGlyphs">2 ноября 2025</text>
<text transform="translate(1219.14,573) rotate(-90)" x="-63.21" y="0" font-size="11.6"  fill="#151515" stroke="#151515" stroke-width="0.3" textLength="63.21" lengthAdjust="spacingAndGlyphs">9 ноября 2025</text>
<text transform="translate(1243.29,573) rotate(-90)" x="-68.50" y="0" font-size="11.6" font-weight="bold" fill="#151515" stroke="#151515" stroke-width="0.3" textLength="68.50" lengthAdjust="spacingAndGlyphs">16 ноября 2025</text>
<line x1="448.3" y1="673.1" x2="476.7" y2="673.1" stroke="#2e8c5c" stroke-width="3" stroke-linecap="round"/>
<line x1="582.7" y1="673.1" x2="611.5" y2="673.1" stroke="#6a0f10" stroke-width="3" stroke-linecap="round"/>
<line x1="710.3" y1="673.1" x2="738.6" y2="673.1" stroke="#c2c2c2" stroke-width="3" stroke-linecap="round"/>
<text x="170.30" y="42.7" font-size="37.2"   fill="#161616" stroke="#161616" stroke-width="1.25" textLength="29.70" lengthAdjust="spacingAndGlyphs" >В.</text>
<text x="208.46" y="42.7" font-size="37.2"   fill="#161616" stroke="#161616" stroke-width="1.25" textLength="104.63" lengthAdjust="spacingAndGlyphs" >Путин:</text>
<text x="322.93" y="42.7" font-size="37.2"   fill="#161616" stroke="#161616" stroke-width="1.25" textLength="176.72" lengthAdjust="spacingAndGlyphs" >отношение</text>
<text x="510.06" y="42.7" font-size="37.2"   fill="#161616" stroke="#161616" stroke-width="1.25" textLength="19.89" lengthAdjust="spacingAndGlyphs" >и</text>
<text x="540.39" y="42.7" font-size="37.2"   fill="#161616" stroke="#161616" stroke-width="1.25" textLength="114.54" lengthAdjust="spacingAndGlyphs" >оценки</text>
<text x="666.55" y="42.7" font-size="37.2"   fill="#161616" stroke="#161616" stroke-width="1.25" textLength="115.16" lengthAdjust="spacingAndGlyphs" >работы</text>
<text x="173.83" y="70.6" font-size="15.5"   fill="#1e1e1e" stroke="#1e1e1e" stroke-width="0.3" textLength="38.57" lengthAdjust="spacingAndGlyphs" >Опрос</text>
<text x="216.90" y="70.6" font-size="15.5"   fill="#1e1e1e" stroke="#1e1e1e" stroke-width="0.3" textLength="84.00" lengthAdjust="spacingAndGlyphs" >«ФОМнибус»</text>
<text x="305.80" y="70.6" font-size="15.5"   fill="#1e1e1e" stroke="#1e1e1e" stroke-width="0.3" textLength="34.70" lengthAdjust="spacingAndGlyphs" >14–16</text>
<text x="344.92" y="70.6" font-size="15.5"   fill="#1e1e1e" stroke="#1e1e1e" stroke-width="0.3" textLength="48.05" lengthAdjust="spacingAndGlyphs" >ноября.</text>
<text x="396.49" y="70.6" font-size="15.5"   fill="#1e1e1e" stroke="#1e1e1e" stroke-width="0.3" textLength="15.56" lengthAdjust="spacingAndGlyphs" >97</text>
<text x="415.44" y="70.6" font-size="15.5"   fill="#1e1e1e" stroke="#1e1e1e" stroke-width="0.3" textLength="73.95" lengthAdjust="spacingAndGlyphs" >населённых</text>
<text x="493.29" y="70.6" font-size="15.5"   fill="#1e1e1e" stroke="#1e1e1e" stroke-width="0.3" textLength="53.41" lengthAdjust="spacingAndGlyphs" >пунктов,</text>
<text x="550.52" y="70.6" font-size="15.5"   fill="#1e1e1e" stroke="#1e1e1e" stroke-width="0.3" textLength="13.37" lengthAdjust="spacingAndGlyphs" >51</text>
<text x="569.19" y="70.6" font-size="15.5"   fill="#1e1e1e" stroke="#1e1e1e" stroke-width="0.3" textLength="47.78" lengthAdjust="spacingAndGlyphs" >субъект</text>
<text x="621.55" y="70.6" font-size="15.5"   fill="#1e1e1e" stroke="#1e1e1e" stroke-width="0.3" textLength="22.80" lengthAdjust="spacingAndGlyphs" >РФ,</text>
<text x="648.57" y="70.6" font-size="15.5"   fill="#1e1e1e" stroke="#1e1e1e" stroke-width="0.3" textLength="28.58" lengthAdjust="spacingAndGlyphs" >1500</text>
<text x="680.88" y="70.6" font-size="15.5"   fill="#1e1e1e" stroke="#1e1e1e" stroke-width="0.3" textLength="91.61" lengthAdjust="spacingAndGlyphs" >респондентов.</text>
<text x="169.84" y="109.8" font-size="28.2" font-weight="bold"  fill="#1a1a1a" stroke="#1a1a1a" stroke-width="0.4" textLength="84.81" lengthAdjust="spacingAndGlyphs" >Оценка</text>
<text x="262.46" y="109.8" font-size="28.2" font-weight="bold"  fill="#1a1a1a" stroke="#1a1a1a" stroke-width="0.4" textLength="84.52" lengthAdjust="spacingAndGlyphs" >работы</text>
<text x="353.73" y="109.8" font-size="28.2" font-weight="bold"  fill="#1a1a1a" stroke="#1a1a1a" stroke-width="0.4" textLength="21.98" lengthAdjust="spacingAndGlyphs" >В.</text>
<text x="381.77" y="109.8" font-size="28.2" font-weight="bold"  fill="#1a1a1a" stroke="#1a1a1a" stroke-width="0.4" textLength="80.99" lengthAdjust="spacingAndGlyphs" >Путина</text>
<text x="19.18" y="177.9" font-size="16.8"   fill="#5b4822" stroke="#5b4822" stroke-width="0.65" textLength="25.92" lengthAdjust="spacingAndGlyphs" >Как</text>
<text x="49.09" y="177.9" font-size="16.8"   fill="#5b4822" stroke="#5b4822" stroke-width="0.65" textLength="22.51" lengthAdjust="spacingAndGlyphs" >Вы</text>
<text x="75.18" y="177.9" font-size="16.8"   fill="#5b4822" stroke="#5b4822" stroke-width="0.65" textLength="67.46" lengthAdjust="spacingAndGlyphs" >считаете,</text>
<text x="146.45" y="177.9" font-size="16.8"   fill="#5b4822" stroke="#5b4822" stroke-width="0.65" textLength="74.74" lengthAdjust="spacingAndGlyphs" >президент</text>
<text x="226.01" y="177.9" font-size="16.8"   fill="#5b4822" stroke="#5b4822" stroke-width="0.65" textLength="14.02" lengthAdjust="spacingAndGlyphs" >В.</text>
<text x="243.76" y="177.9" font-size="16.8"   fill="#5b4822" stroke="#5b4822" stroke-width="0.65" textLength="43.39" lengthAdjust="spacingAndGlyphs" >Путин</text>
<text x="290.44" y="177.9" font-size="16.8"   fill="#5b4822" stroke="#5b4822" stroke-width="0.65" textLength="65.20" lengthAdjust="spacingAndGlyphs" >работает</text>
<text x="360.37" y="177.9" font-size="16.8"   fill="#5b4822" stroke="#5b4822" stroke-width="0.65" textLength="16.80" lengthAdjust="spacingAndGlyphs" >на</text>
<text x="381.87" y="177.9" font-size="16.8"   fill="#5b4822" stroke="#5b4822" stroke-width="0.65" textLength="43.67" lengthAdjust="spacingAndGlyphs" >своём</text>
<text x="430.18" y="177.9" font-size="16.8"   fill="#5b4822" stroke="#5b4822" stroke-width="0.65" textLength="38.42" lengthAdjust="spacingAndGlyphs" >посту</text>
<text x="473.78" y="177.9" font-size="16.8"   fill="#5b4822" stroke="#5b4822" stroke-width="0.65" textLength="47.87" lengthAdjust="spacingAndGlyphs" >скорее</text>
<text x="527.05" y="177.9" font-size="16.8"   fill="#5b4822" stroke="#5b4822" stroke-width="0.65" textLength="53.96" lengthAdjust="spacingAndGlyphs" >хорошо</text>
<text x="585.47" y="177.9" font-size="16.8"   fill="#5b4822" stroke="#5b4822" stroke-width="0.65" textLength="28.57" lengthAdjust="spacingAndGlyphs" >или</text>
<text x="618.58" y="177.9" font-size="16.8"   fill="#5b4822" stroke="#5b4822" stroke-width="0.65" textLength="47.87" lengthAdjust="spacingAndGlyphs" >скорее</text>
<text x="670.54" y="177.9" font-size="16.8"   fill="#5b4822" stroke="#5b4822" stroke-width="0.65" textLength="46.55" lengthAdjust="spacingAndGlyphs" >плохо?</text>
<text x="19.93" y="204.9" font-size="15.8"  font-style="italic" fill="#1e1e1e" stroke="#1e1e1e" stroke-width="0.3" textLength="44.79" lengthAdjust="spacingAndGlyphs" >данные</text>
<text x="69.02" y="204.9" font-size="15.8"  font-style="italic" fill="#1e1e1e" stroke="#1e1e1e" stroke-width="0.3" textLength="6.40" lengthAdjust="spacingAndGlyphs" >в</text>
<text x="79.97" y="204.9" font-size="15.8"  font-style="italic" fill="#1e1e1e" stroke="#1e1e1e" stroke-width="0.3" textLength="11.02" lengthAdjust="spacingAndGlyphs" >%</text>
<text x="94.20" y="204.9" font-size="15.8"  font-style="italic" fill="#1e1e1e" stroke="#1e1e1e" stroke-width="0.3" textLength="19.30" lengthAdjust="spacingAndGlyphs" >от</text>
<text x="116.73" y="204.9" font-size="15.8"  font-style="italic" fill="#1e1e1e" stroke="#1e1e1e" stroke-width="0.3" textLength="24.28" lengthAdjust="spacingAndGlyphs" >всех</text>
<text x="145.53" y="204.9" font-size="15.8"  font-style="italic" fill="#1e1e1e" stroke="#1e1e1e" stroke-width="0.3" textLength="77.04" lengthAdjust="spacingAndGlyphs" >опрошенных</text>
<text x="481.67" y="676.6" font-size="11.5" font-weight="bold"  fill="#161616" stroke="#161616" stroke-width="0.3" textLength="73.57" lengthAdjust="spacingAndGlyphs" >скорее хорошо</text>
<text x="616.27" y="676.6" font-size="11.5" font-weight="bold"  fill="#161616" stroke="#161616" stroke-width="0.3" textLength="65.21" lengthAdjust="spacingAndGlyphs" >скорее плохо</text>
<text x="743.40" y="676.6" font-size="11.5" font-weight="bold"  fill="#161616" stroke="#161616" stroke-width="0.3" textLength="108.75" lengthAdjust="spacingAndGlyphs" >затрудняюсь ответить</text>
</svg>
</body></html>
